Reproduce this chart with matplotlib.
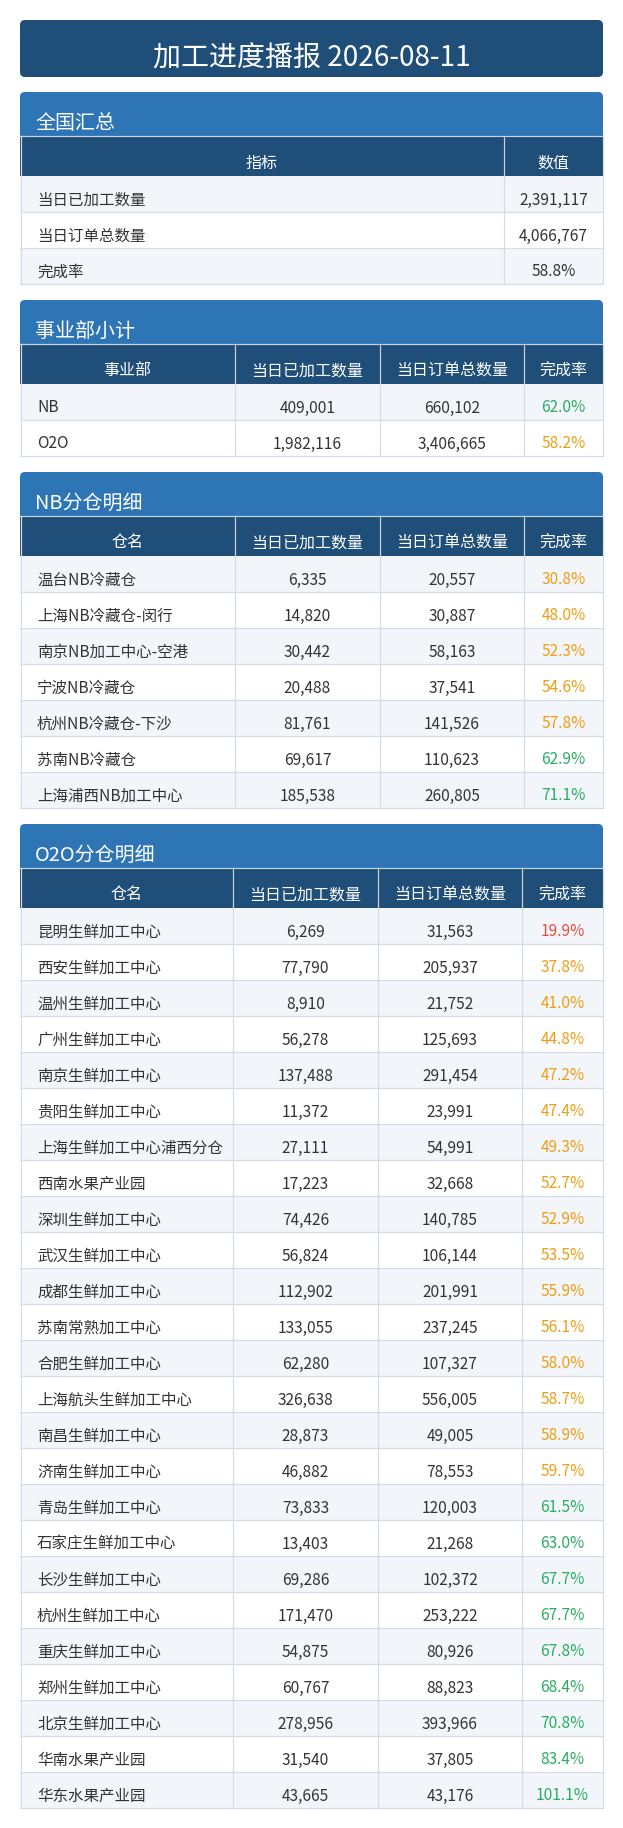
import matplotlib
matplotlib.use("Agg")
import matplotlib.pyplot as plt
from matplotlib.patches import Rectangle, FancyBboxPatch

plt.rcParams['font.family'] = ['Noto Sans CJK SC', 'DejaVu Sans']

report_date = "2026-08-11"

# 全国汇总
summary_names = ["当日已加工数量", "当日订单总数量", "完成率"]
summary_values = ["2,391,117", "4,066,767", "58.8%"]

# 事业部小计
bu_names = ["NB", "O2O"]
bu_done = [409001, 1982116]
bu_total = [660102, 3406665]
bu_rate = [62.0, 58.2]

# NB分仓明细
nb_names = ["温台NB冷藏仓", "上海NB冷藏仓-闵行", "南京NB加工中心-空港", "宁波NB冷藏仓",
            "杭州NB冷藏仓-下沙", "苏南NB冷藏仓", "上海浦西NB加工中心"]
nb_done = [6335, 14820, 30442, 20488, 81761, 69617, 185538]
nb_total = [20557, 30887, 58163, 37541, 141526, 110623, 260805]
nb_rate = [30.8, 48.0, 52.3, 54.6, 57.8, 62.9, 71.1]

# O2O分仓明细
o2o_names = ["昆明生鲜加工中心", "西安生鲜加工中心", "温州生鲜加工中心", "广州生鲜加工中心",
             "南京生鲜加工中心", "贵阳生鲜加工中心", "上海生鲜加工中心浦西分仓", "西南水果产业园",
             "深圳生鲜加工中心", "武汉生鲜加工中心", "成都生鲜加工中心", "苏南常熟加工中心",
             "合肥生鲜加工中心", "上海航头生鲜加工中心", "南昌生鲜加工中心", "济南生鲜加工中心",
             "青岛生鲜加工中心", "石家庄生鲜加工中心", "长沙生鲜加工中心", "杭州生鲜加工中心",
             "重庆生鲜加工中心", "郑州生鲜加工中心", "北京生鲜加工中心", "华南水果产业园",
             "华东水果产业园"]
o2o_done = [6269, 77790, 8910, 56278, 137488, 11372, 27111, 17223, 74426, 56824, 112902,
            133055, 62280, 326638, 28873, 46882, 73833, 13403, 69286, 171470, 54875, 60767,
            278956, 31540, 43665]
o2o_total = [31563, 205937, 21752, 125693, 291454, 23991, 54991, 32668, 140785, 106144,
             201991, 237245, 107327, 556005, 49005, 78553, 120003, 21268, 102372, 253222,
             80926, 88823, 393966, 37805, 43176]
o2o_rate = [19.9, 37.8, 41.0, 44.8, 47.2, 47.4, 49.3, 52.7, 52.9, 53.5, 55.9, 56.1, 58.0,
            58.7, 58.9, 59.7, 61.5, 63.0, 67.7, 67.7, 67.8, 68.4, 70.8, 83.4, 101.1]

detail_cols = ["当日已加工数量", "当日订单总数量", "完成率"]

# colours
NAVY = "#1F4E79"
BLUE = "#2E75B6"
ALT = "#F2F6FA"
GRID = "#D5DCE5"
TEXT = "#333333"
RED, ORANGE, GREEN = "#E74C3C", "#F39C12", "#27AE60"

W, H = 623, 1828
X0, X1 = 20, 603
PX = 0.72  # px -> pt at dpi 100

fig = plt.figure(figsize=(W / 100, H / 100), dpi=100)
ax = fig.add_axes([0, 0, 1, 1])
ax.set_xlim(0, W)
ax.set_ylim(H, 0)
ax.axis('off')


def rate_color(r):
    if r < 30:
        return RED
    if r < 60:
        return ORANGE
    return GREEN


def fmt(n):
    return f"{n:,}"


# title banner
ax.add_patch(FancyBboxPatch((X0, 20), X1 - X0, 57, boxstyle="round,pad=0,rounding_size=5",
                            fc=NAVY, ec="none"))
ax.text((X0 + X1) / 2, 67, f"加工进度播报 {report_date}", color="white",
        fontsize=28 * PX, ha="center", va="baseline")


def section(top, title, header, rows, edges):
    # section title bar with rounded top corners
    ax.add_patch(FancyBboxPatch((X0, top), X1 - X0, 44, boxstyle="round,pad=0,rounding_size=5",
                                fc=BLUE, ec="none"))
    ax.add_patch(Rectangle((X0, top + 20), X1 - X0, 24, fc=BLUE, ec="none"))
    ax.text(35, top + 37, title, color="white", fontsize=20 * PX, ha="left", va="baseline")

    ht = top + 44
    ax.add_patch(Rectangle((X0, ht), X1 - X0, 40, fc=NAVY, ec="none"))
    for i, h in enumerate(header):
        cx = (edges[i] + edges[i + 1]) / 2
        ax.text(cx, ht + 31.5, h, color="white", fontsize=16 * PX, ha="center", va="baseline")

    y = ht + 40
    for r, row in enumerate(rows):
        fc = ALT if r % 2 == 0 else "white"
        ax.add_patch(Rectangle((X0, y), X1 - X0, 36, fc=fc, ec="none"))
        for i, (txt, col) in enumerate(row):
            if i == 0:
                ax.text(37, y + 28.5, txt, color=col, fontsize=15.5 * PX, ha="left", va="baseline")
            else:
                cx = (edges[i] + edges[i + 1]) / 2
                ax.text(cx, y + 28.5, txt, color=col, fontsize=15.5 * PX, ha="center",
                        va="baseline")
        y += 36
        ax.plot([X0, X1], [y, y], color=GRID, lw=1.2 * PX, solid_capstyle="butt")

    bottom = y
    lw = 1.2 * PX
    # column separators and outer border
    for e in edges[1:-1]:
        ax.plot([e, e], [ht, ht + 40], color="#C9D3DE", lw=lw)
        ax.plot([e, e], [ht + 40, bottom], color=GRID, lw=lw)
    ax.plot([X0, X1], [ht, ht], color="#C9D3DE", lw=lw)
    ax.plot([X0 + 0.5, X0 + 0.5], [ht, bottom], color=GRID, lw=lw)
    ax.plot([X1 - 0.5, X1 - 0.5], [ht, bottom], color=GRID, lw=lw)
    return bottom


def detail_rows(names, done, total, rate):
    return [[(n, TEXT), (fmt(d), TEXT), (fmt(t), TEXT), (f"{r:.1f}%", rate_color(r))]
            for n, d, t, r in zip(names, done, total, rate)]


y = 92
y = section(y, "全国汇总", ["指标", "数值"],
            [[(n, TEXT), (v, TEXT)] for n, v in zip(summary_names, summary_values)],
            [X0, 504, X1])
y = section(y + 16, "事业部小计", ["事业部"] + detail_cols,
            detail_rows(bu_names, bu_done, bu_total, bu_rate), [X0, 235, 380, 524, X1])
y = section(y + 16, "NB分仓明细", ["仓名"] + detail_cols,
            detail_rows(nb_names, nb_done, nb_total, nb_rate), [X0, 235, 380, 524, X1])
y = section(y + 16, "O2O分仓明细", ["仓名"] + detail_cols,
            detail_rows(o2o_names, o2o_done, o2o_total, o2o_rate), [X0, 233, 378, 522, X1])

fig.savefig("out.png", dpi=100, facecolor="white")
